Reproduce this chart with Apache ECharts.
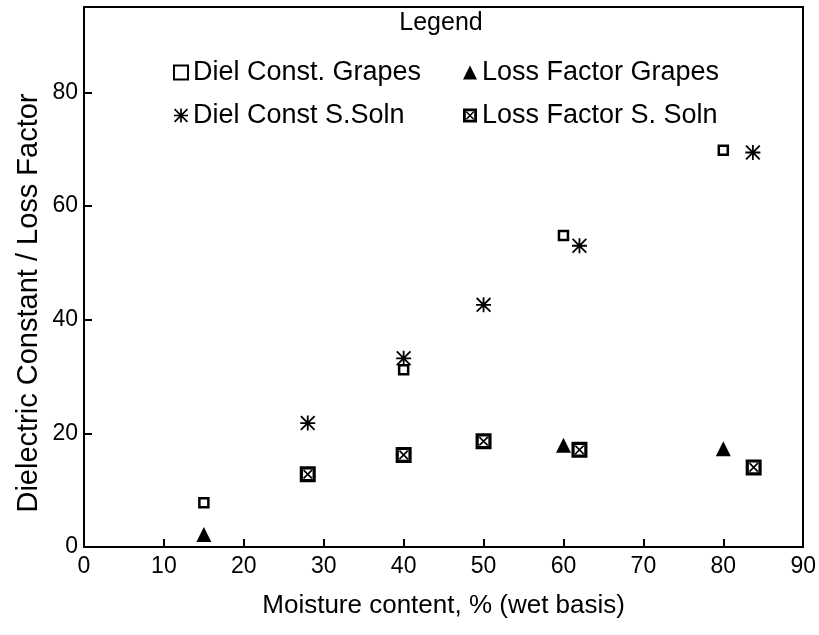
<!DOCTYPE html>
<html>
<head>
<meta charset="utf-8">
<script src="https://cdn.jsdelivr.net/npm/echarts@6/dist/echarts.min.js"></script>
<style>
html,body{margin:0;padding:0;background:#fff;}
#chart{width:819px;height:635px;}
</style>
</head>
<body>
<div id="chart"></div>
<script>
// ---- Data ----
const seriesNames = ['Diel Const. Grapes', 'Diel Const S.Soln', 'Loss Factor Grapes', 'Loss Factor S. Soln'];
const dielGrapesX = [15, 40, 60, 80];
const dielGrapesY = [7.8, 31.2, 54.8, 69.8];
const dielSolnX = [28, 40, 50, 62, 83.7];
const dielSolnY = [21.8, 33.2, 42.6, 53.0, 69.4];
const lossGrapesX = [15, 60, 80];
const lossGrapesY = [2.2, 17.9, 17.3];
const lossSolnX = [28, 40, 50, 62, 83.8];
const lossSolnY = [12.8, 16.2, 18.6, 17.1, 14.0];
const xTicks = [0, 10, 20, 30, 40, 50, 60, 70, 80, 90];
const yTicks = [0, 20, 40, 60, 80];

function pairs(xs, ys) { return xs.map((x, i) => [x, ys[i]]); }

const FONT = 'Liberation Sans, Arial, Helvetica, sans-serif';
const asterisk = 'path://M8.8,0H11.2V20H8.8Z M0,8.8H20V11.2H0Z M0,1.7L1.7,0L20,18.3L18.3,20Z M18.3,0L20,1.7L1.7,20L0,18.3Z';
const boxed = 'path://M0,0H20V20H0Z M4,4V16H16V4Z M4,5.5L5.5,4L16,14.5L14.5,16Z M14.5,4L16,5.5L5.5,16L4,14.5Z';

const chart = echarts.init(document.getElementById('chart'), null, {renderer: 'canvas'});
const axisLineStyle = {color: '#000', width: 2};
const legendText = {fontFamily: FONT, fontSize: 27, color: '#000'};
chart.setOption({
  backgroundColor: '#fff',
  animation: false,
  title: {
    text: 'Legend', left: 436, top: 6, textAlign: 'center',
    textStyle: {fontFamily: FONT, fontSize: 25, fontWeight: 'normal', color: '#000'}
  },
  legend: [
    {
      orient: 'vertical', left: 168, top: 54, itemGap: 16, itemWidth: 14, itemHeight: 14,
      data: [seriesNames[0], seriesNames[1]],
      textStyle: legendText
    },
    {
      orient: 'vertical', left: 458, top: 54, itemGap: 16, itemWidth: 14, itemHeight: 14,
      data: [seriesNames[2], seriesNames[3]],
      textStyle: legendText
    }
  ],
  grid: {left: 84, right: 13, top: 7, bottom: 88, containLabel: false},
  xAxis: [
    {
      type: 'value', min: xTicks[0], max: xTicks[xTicks.length - 1], interval: 10,
      name: 'Moisture content, % (wet basis)', nameLocation: 'middle', nameGap: 46,
      nameTextStyle: {fontFamily: FONT, fontSize: 26, color: '#000'},
      axisLine: {show: true, onZero: false, lineStyle: axisLineStyle},
      axisTick: {show: true, inside: true, length: 8, lineStyle: {color: '#000', width: 2}},
      axisLabel: {fontFamily: FONT, fontSize: 23, color: '#000', margin: 8},
      splitLine: {show: false}
    },
    {
      type: 'value', position: 'top', min: 0, max: 90,
      axisLine: {show: true, onZero: false, lineStyle: axisLineStyle},
      axisTick: {show: false}, axisLabel: {show: false}, splitLine: {show: false}
    }
  ],
  yAxis: [
    {
      type: 'value', min: yTicks[0], max: 95, interval: 20,
      axisLine: {show: true, onZero: false, lineStyle: axisLineStyle},
      axisTick: {show: true, inside: true, length: 8, lineStyle: {color: '#000', width: 2}},
      axisLabel: {fontFamily: FONT, fontSize: 23, color: '#000', margin: 6, showMaxLabel: false},
      splitLine: {show: false}
    },
    {
      type: 'value', position: 'right', min: 0, max: 95,
      axisLine: {show: true, onZero: false, lineStyle: axisLineStyle},
      axisTick: {show: false}, axisLabel: {show: false}, splitLine: {show: false}
    }
  ],
  graphic: [
    {
      type: 'text', x: 29, y: 303, rotation: Math.PI / 2,
      style: {
        text: 'Dielectric Constant / Loss Factor', fill: '#000',
        font: '29px ' + FONT, textAlign: 'center', textVerticalAlign: 'middle'
      }
    }
  ],
  series: [
    {
      name: seriesNames[0], type: 'scatter', symbol: 'rect', symbolSize: 9, z: 3,
      itemStyle: {color: '#fff', borderColor: '#000', borderWidth: 2.5, opacity: 1},
      data: pairs(dielGrapesX, dielGrapesY)
    },
    {
      name: seriesNames[1], type: 'scatter', symbol: asterisk, symbolSize: 15, z: 4,
      itemStyle: {color: '#000', opacity: 1},
      data: pairs(dielSolnX, dielSolnY)
    },
    {
      name: seriesNames[2], type: 'scatter', symbol: 'triangle', symbolSize: 15, z: 3,
      itemStyle: {color: '#000', opacity: 1},
      data: pairs(lossGrapesX, lossGrapesY)
    },
    {
      name: seriesNames[3], type: 'scatter', symbol: boxed, symbolSize: 16, z: 4,
      itemStyle: {color: '#000', opacity: 1},
      data: pairs(lossSolnX, lossSolnY)
    }
  ]
});
</script>
</body>
</html>
